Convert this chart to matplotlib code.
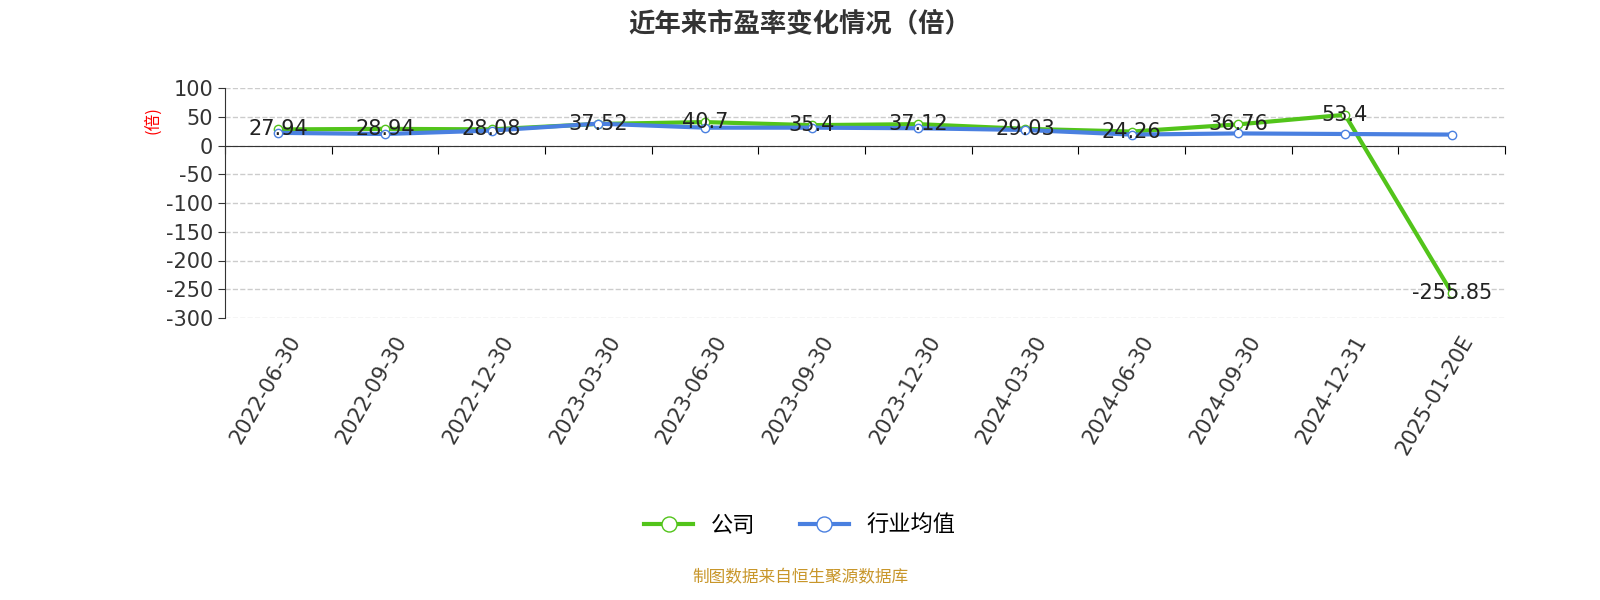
import matplotlib
matplotlib.use("Agg")
import matplotlib.pyplot as plt
import matplotlib.transforms as mtrans

plt.rcParams['font.family'] = ['Noto Sans CJK SC', 'DejaVu Sans']
plt.rcParams['axes.unicode_minus'] = False

dates = ["2022-06-30","2022-09-30","2022-12-30","2023-03-30","2023-06-30","2023-09-30",
         "2023-12-30","2024-03-30","2024-06-30","2024-09-30","2024-12-31","2025-01-20E"]
company = [27.94,28.94,28.08,37.52,40.7,35.4,37.12,29.03,24.26,36.76,53.4,-255.85]
industry = [22,20,26,38,31,31,30,27,19,21,20,19]
labels = ["27.94","28.94","28.08","37.52","40.7","35.4","37.12","29.03","24.26","36.76","53.4","-255.85"]

fig = plt.figure(figsize=(16,6), dpi=100)
ax = fig.add_axes([225/1600, 1-318/600, 1280/1600, 230/600])
x = list(range(len(dates)))
ax.plot(x, company, color='#52c41a', lw=3, marker='o', ms=6, mfc='white', mec='#52c41a', zorder=3, label='公司')
ax.plot(x, industry, color='#4a80e0', lw=3, marker='o', ms=6, mfc='white', mec='#4a80e0', zorder=4, label='行业均值')
for xi, v, t in zip(x, company, labels):
    ax.text(xi, v, t, ha='center', va='center', fontsize=15, color='#222', zorder=5,
            family=['DejaVu Sans'])
ax.set_xlim(-0.5, len(dates)-0.5)
ax.set_ylim(-300, 100)
ax.set_yticks(range(-300, 101, 50))
for l in ax.get_yticklabels():
    l.set_family(['DejaVu Sans'])
ax.tick_params(axis='y', labelsize=15, colors='#333', length=5)
ax.set_xticks([i-0.5 for i in x] + [len(x)-0.5])
ax.set_xticklabels([])
ax.tick_params(axis='x', which='major', length=6)
trans = mtrans.blended_transform_factory(ax.transData, ax.transAxes)
for xi, d in zip(x, dates):
    ax.text(xi + 0.08, -0.06, d, transform=trans, rotation=60, ha='right', va='top',
            rotation_mode='anchor', fontsize=15, color='#333', family=['DejaVu Sans'])
ax.grid(axis='y', ls='--', color='#ccc', lw=1)
ax.set_axisbelow(True)
for s in ['top','right']:
    ax.spines[s].set_visible(False)
ax.spines['bottom'].set_position(('data', 0))
ax.spines['left'].set_color('#333')
ax.spines['bottom'].set_color('#333')
ax.set_ylabel('(倍)', color='red', fontsize=12, labelpad=2)
ax.yaxis.set_label_coords(-0.05, 0.86)
fig.text(0.5, 0.96, '近年来市盈率变化情况（倍）', ha='center', va='center', fontsize=19, fontweight='bold', color='#333')
fig.legend(loc='center', bbox_to_anchor=(0.5, 1-525/600), ncol=2, frameon=False, fontsize=16, markerscale=1.8, handlelength=2.2)
fig.text(0.5, 1-578/600, '制图数据来自恒生聚源数据库', ha='center', va='center', fontsize=12, color='#c8962a')
fig.savefig('out.png')
